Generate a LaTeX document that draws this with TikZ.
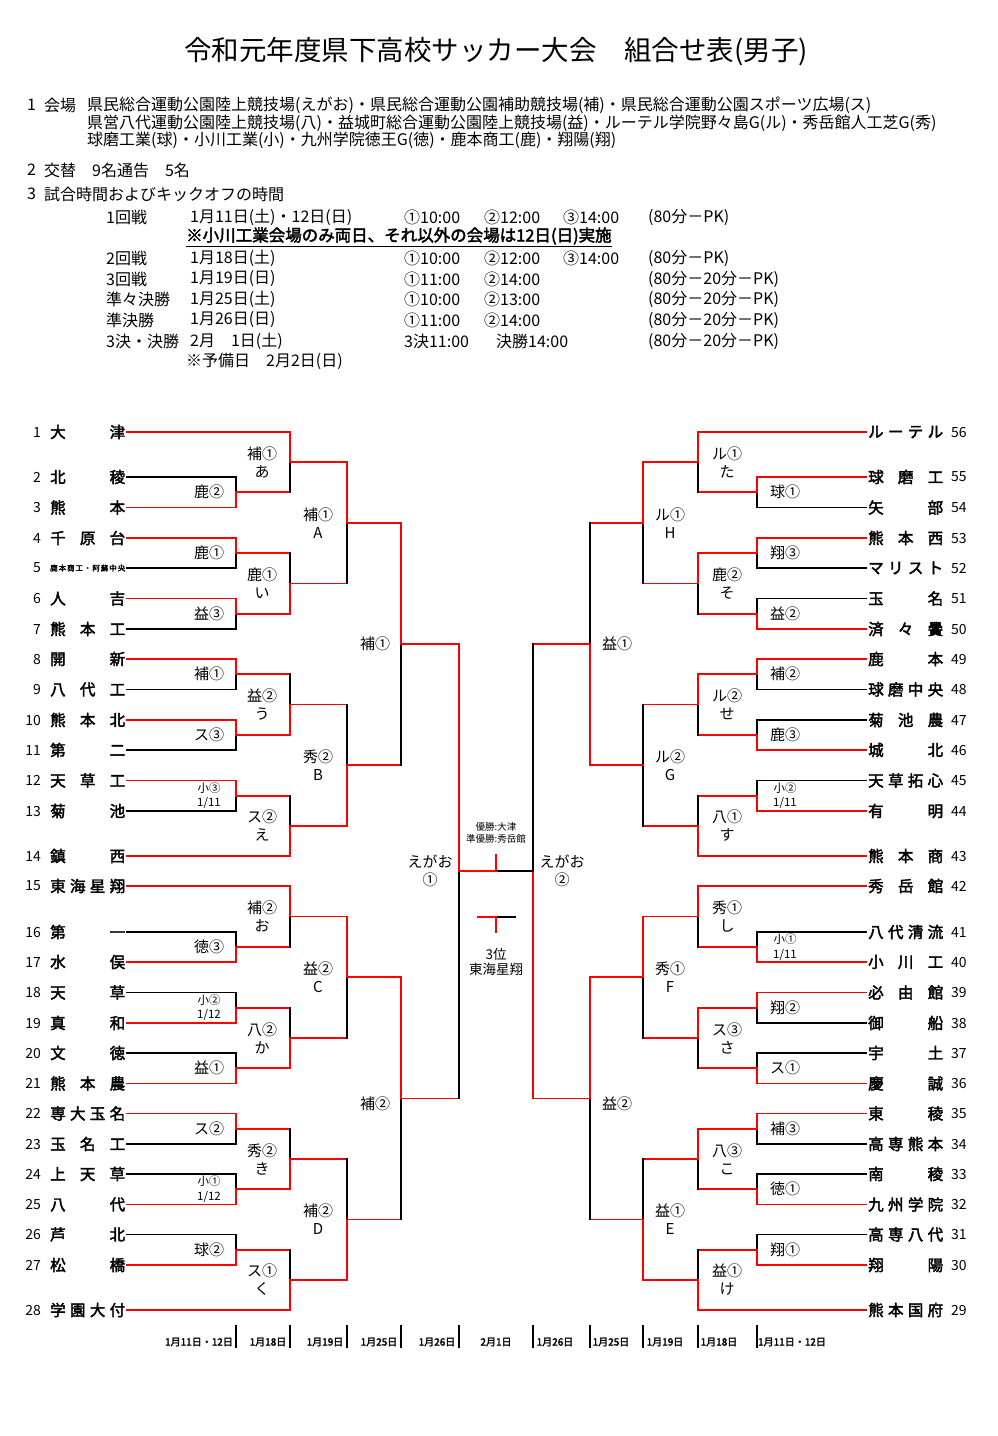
\documentclass[tikz,border=0pt]{standalone}
\usepackage{fontspec}
\setmainfont{Noto Sans CJK JP}
\newfontfamily\boldjp[FakeBold=2.5]{Noto Sans CJK JP}
\usetikzlibrary{calc}

% spread the letters of a name over a fixed width
\makeatletter
\def\sprd@end{}
\newcommand{\sprd}[2][75pt]{\edef\sprd@tmp{#2}\hbox to #1{\expandafter\sprd@\sprd@tmp\sprd@end}}
\def\sprd@#1#2{#1\ifx\sprd@end#2\else\hfill\expandafter\sprd@\expandafter#2\fi}
\makeatother

% one game: name, x of bar, top entry, bottom entry, entry styles, winner (t/b/n), label opts, label
\newcommand{\game}[9]{%
  \coordinate (#1-t) at (#2,0 |- #3);
  \coordinate (#1-b) at (#2,0 |- #4);
  \coordinate (#1) at ($(#1-t)!0.5!(#1-b)$);
  \draw[#5] (#3) -- (#1-t);
  \draw[#6] (#4) -- (#1-b);
  \if t#7\relax
    \draw[lose] (#1) -- (#1-b); \draw[win] (#1-t) -- (#1);
  \else\if b#7\relax
    \draw[lose] (#1-t) -- (#1); \draw[win] (#1) -- (#1-b);
  \else
    \draw[lose] (#1-t) -- (#1-b);
  \fi\fi
  \node[lbl, #8] (#1-l) at (#1) {#9};
}

\begin{document}
\begin{tikzpicture}
[x=1pt, y=-1pt, font=\fontsize{16}{19}\selectfont,
win/.style={draw=red, line width=1.7pt, line cap=rect},
lose/.style={draw=black, line width=1.7pt, line cap=rect},
team/.style={anchor=west, inner sep=1.5pt, font=\boldjp\fontsize{15.5}{18}\selectfont},
num/.style={inner sep=0pt, font=\fontsize{14}{16}\selectfont},
lbl/.style={align=center, inner sep=0pt, font=\fontsize{15}{18}\selectfont},
slbl/.style={font=\fontsize{11.5}{14.5}\selectfont},
txt/.style={anchor=west, inner sep=0pt},
datetxt/.style={inner sep=0pt, font=\boldjp\fontsize{10}{12}\selectfont},
tick/.style={line width=1.2pt}]

\useasboundingbox (0,0) rectangle (998,1436);

% heading
\node[font=\fontsize{27.5}{32}\selectfont] (title) at (496,52) {令和元年度県下高校サッカー大会　組合せ表(男子)};

\node[txt] (h1n) at (27,105) {1};
\node[txt] (h1) at (44,105) {会場};
\node[txt] (v1) at (87,105) {県民総合運動公園陸上競技場(えがお)・県民総合運動公園補助競技場(補)・県民総合運動公園スポーツ広場(ス)};
\node[txt] (v2) at (87,123) {県営八代運動公園陸上競技場(八)・益城町総合運動公園陸上競技場(益)・ルーテル学院野々島G(ル)・秀岳館人工芝G(秀)};
\node[txt] (v3) at (87,140) {球磨工業(球)・小川工業(小)・九州学院徳王G(徳)・鹿本商工(鹿)・翔陽(翔)};
\node[txt] (h2n) at (27,170) {2};
\node[txt] (h2) at (44,170) {交替　9名通告　5名};
\node[txt] (h3n) at (27,194) {3};
\node[txt] (h3) at (44,194) {試合時間およびキックオフの時間};

% schedule
\foreach \y/\rd/\dt/\len in {217/1回戦/1月11日(土)・12日(日)/(80分－PK),
  258/2回戦/1月18日(土)/(80分－PK), 279/3回戦/1月19日(日)/(80分－20分－PK),
  299/準々決勝/1月25日(土)/(80分－20分－PK), 320/準決勝/1月26日(日)/(80分－20分－PK),
  341/3決・決勝/2月　1日(土)/(80分－20分－PK)} {
  \node[txt] (rd\y) at (106,\y) {\rd};
  \node[txt] (dt\y) at (190,\y) {\dt};
  \node[txt] (len\y) at (648,\y) {\len};
}
\node[txt, font=\boldjp\fontsize{16.5}{19}\selectfont] (note) at (186,237) {\underline{※小川工業会場のみ両日、それ以外の会場は12日(日)実施}};
\node[txt] (spare) at (186,361) {※予備日　2月2日(日)};
\node[txt] (ko217a) at (404,217) {①10:00};
\node[txt] (ko217b) at (484,217) {②12:00};
\node[txt] (ko217c) at (563,217) {③14:00};
\node[txt] (ko258a) at (404,258) {①10:00};
\node[txt] (ko258b) at (484,258) {②12:00};
\node[txt] (ko258c) at (563,258) {③14:00};
\node[txt] (ko279a) at (404,279) {①11:00};
\node[txt] (ko279b) at (484,279) {②14:00};
\node[txt] (ko299a) at (404,299) {①10:00};
\node[txt] (ko299b) at (484,299) {②13:00};
\node[txt] (ko320a) at (404,320) {①11:00};
\node[txt] (ko320b) at (484,320) {②14:00};
\node[txt] (ko341a) at (404,341) {3決11:00};
\node[txt] (ko341b) at (496,341) {決勝14:00};

% teams, left
\foreach \i/\y/\nm in {1/432/大津,2/477/北稜,3/507.5/熊本,4/538/千原台,6/598.5/人吉,
  7/629/熊本工,8/659/開新,9/689.5/八代工,10/720/熊本北,11/750/第二,12/780.5/天草工,
  13/811/菊池,14/856/鎮西,15/886/東海星翔,16/932/第一,17/962/水俣,18/992.5/天草,
  19/1023/真和,20/1053/文徳,21/1083.5/熊本農,22/1113.5/専大玉名,23/1144/玉名工,
  24/1174/上天草,25/1204.5/八代,26/1234.5/芦北,27/1265/松橋,28/1310/学園大付} {
  \node[num, anchor=east] (n\i) at (41,\y) {\i};
  \node[team] (t\i) at (48.5,\y) {\sprd{\nm}};
}
\node[num, anchor=east] (n5) at (41,568) {5};
\node[team, font=\boldjp\fontsize{7.5}{9}\selectfont] (t5) at (48.5,568) {\sprd{鹿本商工・阿蘇中央}};

% teams, right
\foreach \i/\y/\nm in {56/432/ルーテル,55/477/球磨工,54/507.5/矢部,53/538/熊本西,52/568/マリスト,
  51/598.5/玉名,50/629/済々黌,49/659/鹿本,48/689.5/球磨中央,47/720/菊池農,46/750/城北,
  45/780.5/天草拓心,44/811/有明,43/856/熊本商,42/886/秀岳館,41/932/八代清流,40/962/小川工,
  39/992.5/必由館,38/1023/御船,37/1053/宇土,36/1083.5/慶誠,35/1113.5/東稜,34/1144/高専熊本,
  33/1174/南稜,32/1204.5/九州学院,31/1234.5/高専八代,30/1265/翔陽,29/1310/熊本国府} {
  \node[team] (t\i) at (866.5,\y) {\sprd{\nm}};
  \node[num, anchor=west] (n\i) at (951,\y) {\i};
}

% round 1, left
\game{g2}{236}{t2}{t3}{lose}{win}{b}{xshift=-27pt}{鹿②}
\game{g4}{236}{t4}{t5}{win}{lose}{t}{xshift=-27pt}{鹿①}
\game{g6}{236}{t6}{t7}{win}{lose}{t}{xshift=-27pt}{益③}
\game{g8}{236}{t8}{t9}{win}{lose}{t}{xshift=-27pt}{補①}
\game{g10}{236}{t10}{t11}{win}{lose}{t}{xshift=-27pt}{ス③}
\game{g12}{236}{t12}{t13}{win}{lose}{t}{slbl, xshift=-27pt}{小③\\1/11}
\game{g16}{236}{t16}{t17}{lose}{win}{b}{xshift=-27pt}{徳③}
\game{g18}{236}{t18}{t19}{lose}{win}{b}{slbl, xshift=-27pt}{小②\\1/12}
\game{g20}{236}{t20}{t21}{lose}{win}{b}{xshift=-27pt}{益①}
\game{g22}{236}{t22}{t23}{win}{lose}{t}{xshift=-27pt}{ス②}
\game{g24}{236}{t24}{t25}{lose}{win}{b}{slbl, xshift=-27pt}{小①\\1/12}
\game{g26}{236}{t26}{t27}{lose}{win}{b}{xshift=-27pt}{球②}

% round 2, left
\game{ra}{290}{t1}{g2}{win}{win}{t}{xshift=-28pt}{補①\\あ}
\game{ri}{290}{g4}{g6}{win}{win}{b}{xshift=-28pt}{鹿①\\い}
\game{ru}{290}{g8}{g10}{win}{win}{b}{xshift=-28pt}{益②\\う}
\game{re}{290}{g12}{t14}{win}{win}{b}{xshift=-28pt}{ス②\\え}
\game{ro}{290}{t15}{g16}{win}{win}{t}{xshift=-28pt}{補②\\お}
\game{rk}{290}{g18}{g20}{win}{win}{b}{xshift=-28pt}{八②\\か}
\game{rki}{290}{g22}{g24}{win}{win}{b}{xshift=-28pt}{秀②\\き}
\game{rku}{290}{g26}{t28}{win}{win}{b}{xshift=-28pt}{ス①\\く}

% round 3, left
\game{qA}{347}{ra}{ri}{win}{win}{t}{xshift=-29pt}{補①\\A}
\game{qB}{347}{ru}{re}{win}{win}{b}{xshift=-29pt}{秀②\\B}
\game{qC}{347}{ro}{rk}{win}{win}{t}{xshift=-29pt}{益②\\C}
\game{qD}{347}{rki}{rku}{win}{win}{b}{xshift=-29pt}{補②\\D}

% quarter and semi final, left
\game{k1}{401}{qA}{qB}{win}{win}{t}{xshift=-26pt}{補①}
\game{k2}{401}{qC}{qD}{win}{win}{t}{xshift=-26pt, yshift=-5pt}{補②}
\game{s1}{459}{k1}{k2}{win}{win}{t}{xshift=-29pt}{えがお\\①}

% round 1, right
\game{h55}{757}{t55}{t54}{win}{lose}{t}{xshift=28pt}{球①}
\game{h53}{757}{t53}{t52}{win}{lose}{t}{xshift=28pt}{翔③}
\game{h51}{757}{t51}{t50}{lose}{win}{b}{xshift=28pt}{益②}
\game{h49}{757}{t49}{t48}{win}{lose}{t}{xshift=28pt}{補②}
\game{h47}{757}{t47}{t46}{lose}{win}{b}{xshift=28pt}{鹿③}
\game{h45}{757}{t45}{t44}{lose}{win}{b}{slbl, xshift=28pt}{小②\\1/11}
\game{h41}{757}{t41}{t40}{lose}{win}{b}{slbl, xshift=28pt}{小①\\1/11}
\game{h39}{757}{t39}{t38}{win}{lose}{t}{xshift=28pt}{翔②}
\game{h37}{757}{t37}{t36}{lose}{win}{b}{xshift=28pt}{ス①}
\game{h35}{757}{t35}{t34}{win}{lose}{t}{xshift=28pt}{補③}
\game{h33}{757}{t33}{t32}{lose}{win}{b}{xshift=28pt}{徳①}
\game{h31}{757}{t31}{t30}{lose}{win}{b}{xshift=28pt}{翔①}

% round 2, right
\game{rta}{698}{t56}{h55}{win}{win}{t}{xshift=29pt}{ル①\\た}
\game{rso}{698}{h53}{h51}{win}{win}{t}{xshift=29pt}{鹿②\\そ}
\game{rse}{698}{h49}{h47}{win}{win}{t}{xshift=29pt}{ル②\\せ}
\game{rsu}{698}{h45}{t43}{win}{win}{b}{xshift=29pt}{八①\\す}
\game{rsi}{698}{t42}{h41}{win}{win}{t}{xshift=29pt}{秀①\\し}
\game{rsa}{698}{h39}{h37}{win}{win}{t}{xshift=29pt}{ス③\\さ}
\game{rko}{698}{h35}{h33}{win}{win}{t}{xshift=29pt}{八③\\こ}
\game{rke}{698}{h31}{t29}{win}{win}{b}{xshift=29pt}{益①\\け}

% round 3, right
\game{qH}{643}{rta}{rso}{win}{win}{t}{xshift=27pt}{ル①\\H}
\game{qG}{643}{rse}{rsu}{win}{win}{n}{xshift=27pt}{ル②\\G}
\game{qF}{643}{rsi}{rsa}{win}{win}{t}{xshift=27pt}{秀①\\F}
\game{qE}{643}{rko}{rke}{win}{win}{b}{xshift=27pt}{益①\\E}

% quarter and semi final, right
\game{k3}{590}{qH}{qG}{win}{win}{b}{xshift=27pt}{益①}
\game{k4}{590}{qF}{qE}{win}{win}{t}{xshift=27pt, yshift=-5pt}{益②}
\game{s2}{533}{k3}{k4}{win}{win}{b}{xshift=29pt}{えがお\\②}

% final
\coordinate (fin) at ($(s1)!0.5!(s2)$);
\coordinate (fin-up) at ([yshift=16pt]fin);
\draw[lose] (fin) -- (s2);
\draw[win] (s1) -- (fin);
\draw[win] (fin) -- (fin-up);
\node[align=center, inner sep=0pt, font=\fontsize{9.5}{11.5}\selectfont] (champ) at (496,833) {優勝:大津\\準優勝:秀岳館};

% third place
\coordinate (bz) at (496,917);
\coordinate (bz-l) at (478,917);
\coordinate (bz-r) at (515,917);
\coordinate (bz-d) at (496,932);
\draw[lose] (bz) -- (bz-r);
\draw[win] (bz-l) -- (bz) -- (bz-d);
\node[align=center, inner sep=0pt, font=\fontsize{13.5}{15.5}\selectfont] (third) at (496,962) {3位\\東海星翔};

% dates
\foreach \x in {236,290,347,401,459,533,590,643,698,757}
  \draw[tick] (\x,1325) -- (\x,1348);
\foreach \x/\d in {199/1月11日・12日, 268/1月18日, 325/1月19日, 379/1月25日, 437/1月26日, 496/2月1日,
  555/1月26日, 611/1月25日, 665/1月19日, 719/1月18日, 792/1月11日・12日}
  \node[datetxt] (d\x) at (\x,1342) {\d};
\end{tikzpicture}
\end{document}
